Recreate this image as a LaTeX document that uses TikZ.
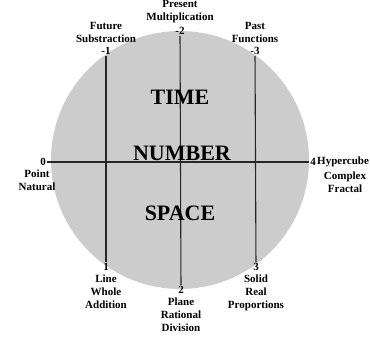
\documentclass[tikz,border=0pt]{standalone}
\usepackage{fontspec}
\setmainfont{Liberation Serif}
\usetikzlibrary{positioning}

\begin{document}
\begin{tikzpicture}[x=1pt, y=-1pt,
    lbl/.style={font=\fontsize{11}{13}\selectfont\bfseries, align=center, inner sep=0pt},
    num/.style={font=\fontsize{11}{13}\selectfont\bfseries, inner sep=1pt},
    big/.style={font=\fontsize{22}{26}\selectfont\bfseries},
    axis/.style={black!85, line width=1.1pt}]
  \useasboundingbox (0,0) rectangle (370,339);

  % grey disc
  \fill[black!20] (180,160) circle (129);

  % top labels and their numbers
  \node[lbl] (future) at (106,32) {Future\\Substraction};
  \node[num] (m1) at (106,51) {-1};
  \node[lbl] (present) at (180,12) {Present\\Multiplication};
  \node[num] (m2) at (180,31) {-2};
  \node[lbl] (past) at (255,32) {Past\\Functions};
  \node[num] (m3) at (255,51) {-3};

  % bottom numbers and their labels
  \node[num] (p1) at (106,267) {1};
  \node[lbl, below=3pt of p1] (line) {Line\\Whole\\Addition};
  \node[num] (p2) at (181,290) {2};
  \node[lbl, below=3pt of p2] (plane) {Plane\\Rational\\Division};
  \node[num] (p3) at (256,267) {3};
  \node[lbl, below=3pt of p3] (solid) {Solid\\Real\\Proportions};

  % side labels
  \node[num] (zero) at (43,162) {0};
  \node[lbl, below=3pt of zero, xshift=-6pt] (point) {Point\\Natural};
  \node[num] (four) at (313,162) {4};
  \node[lbl, anchor=west] (hyper) at (317,162) {Hypercube};
  \node[lbl, below=4pt of hyper.south west, anchor=north, xshift=28pt] (complex) {Complex\\Fractal};

  % axes
  \draw[axis] (m1) -- (p1);
  \draw[axis] (m2) -- (p2);
  \draw[axis] (m3) -- (p3);
  \draw[axis] (zero) -- (four);

  % words on the disc
  \node[big] (time) at (180,97) {TIME};
  \node[big] (number) at (182,153) {NUMBER};
  \node[big] (space) at (180,213) {SPACE};
\end{tikzpicture}
\end{document}
